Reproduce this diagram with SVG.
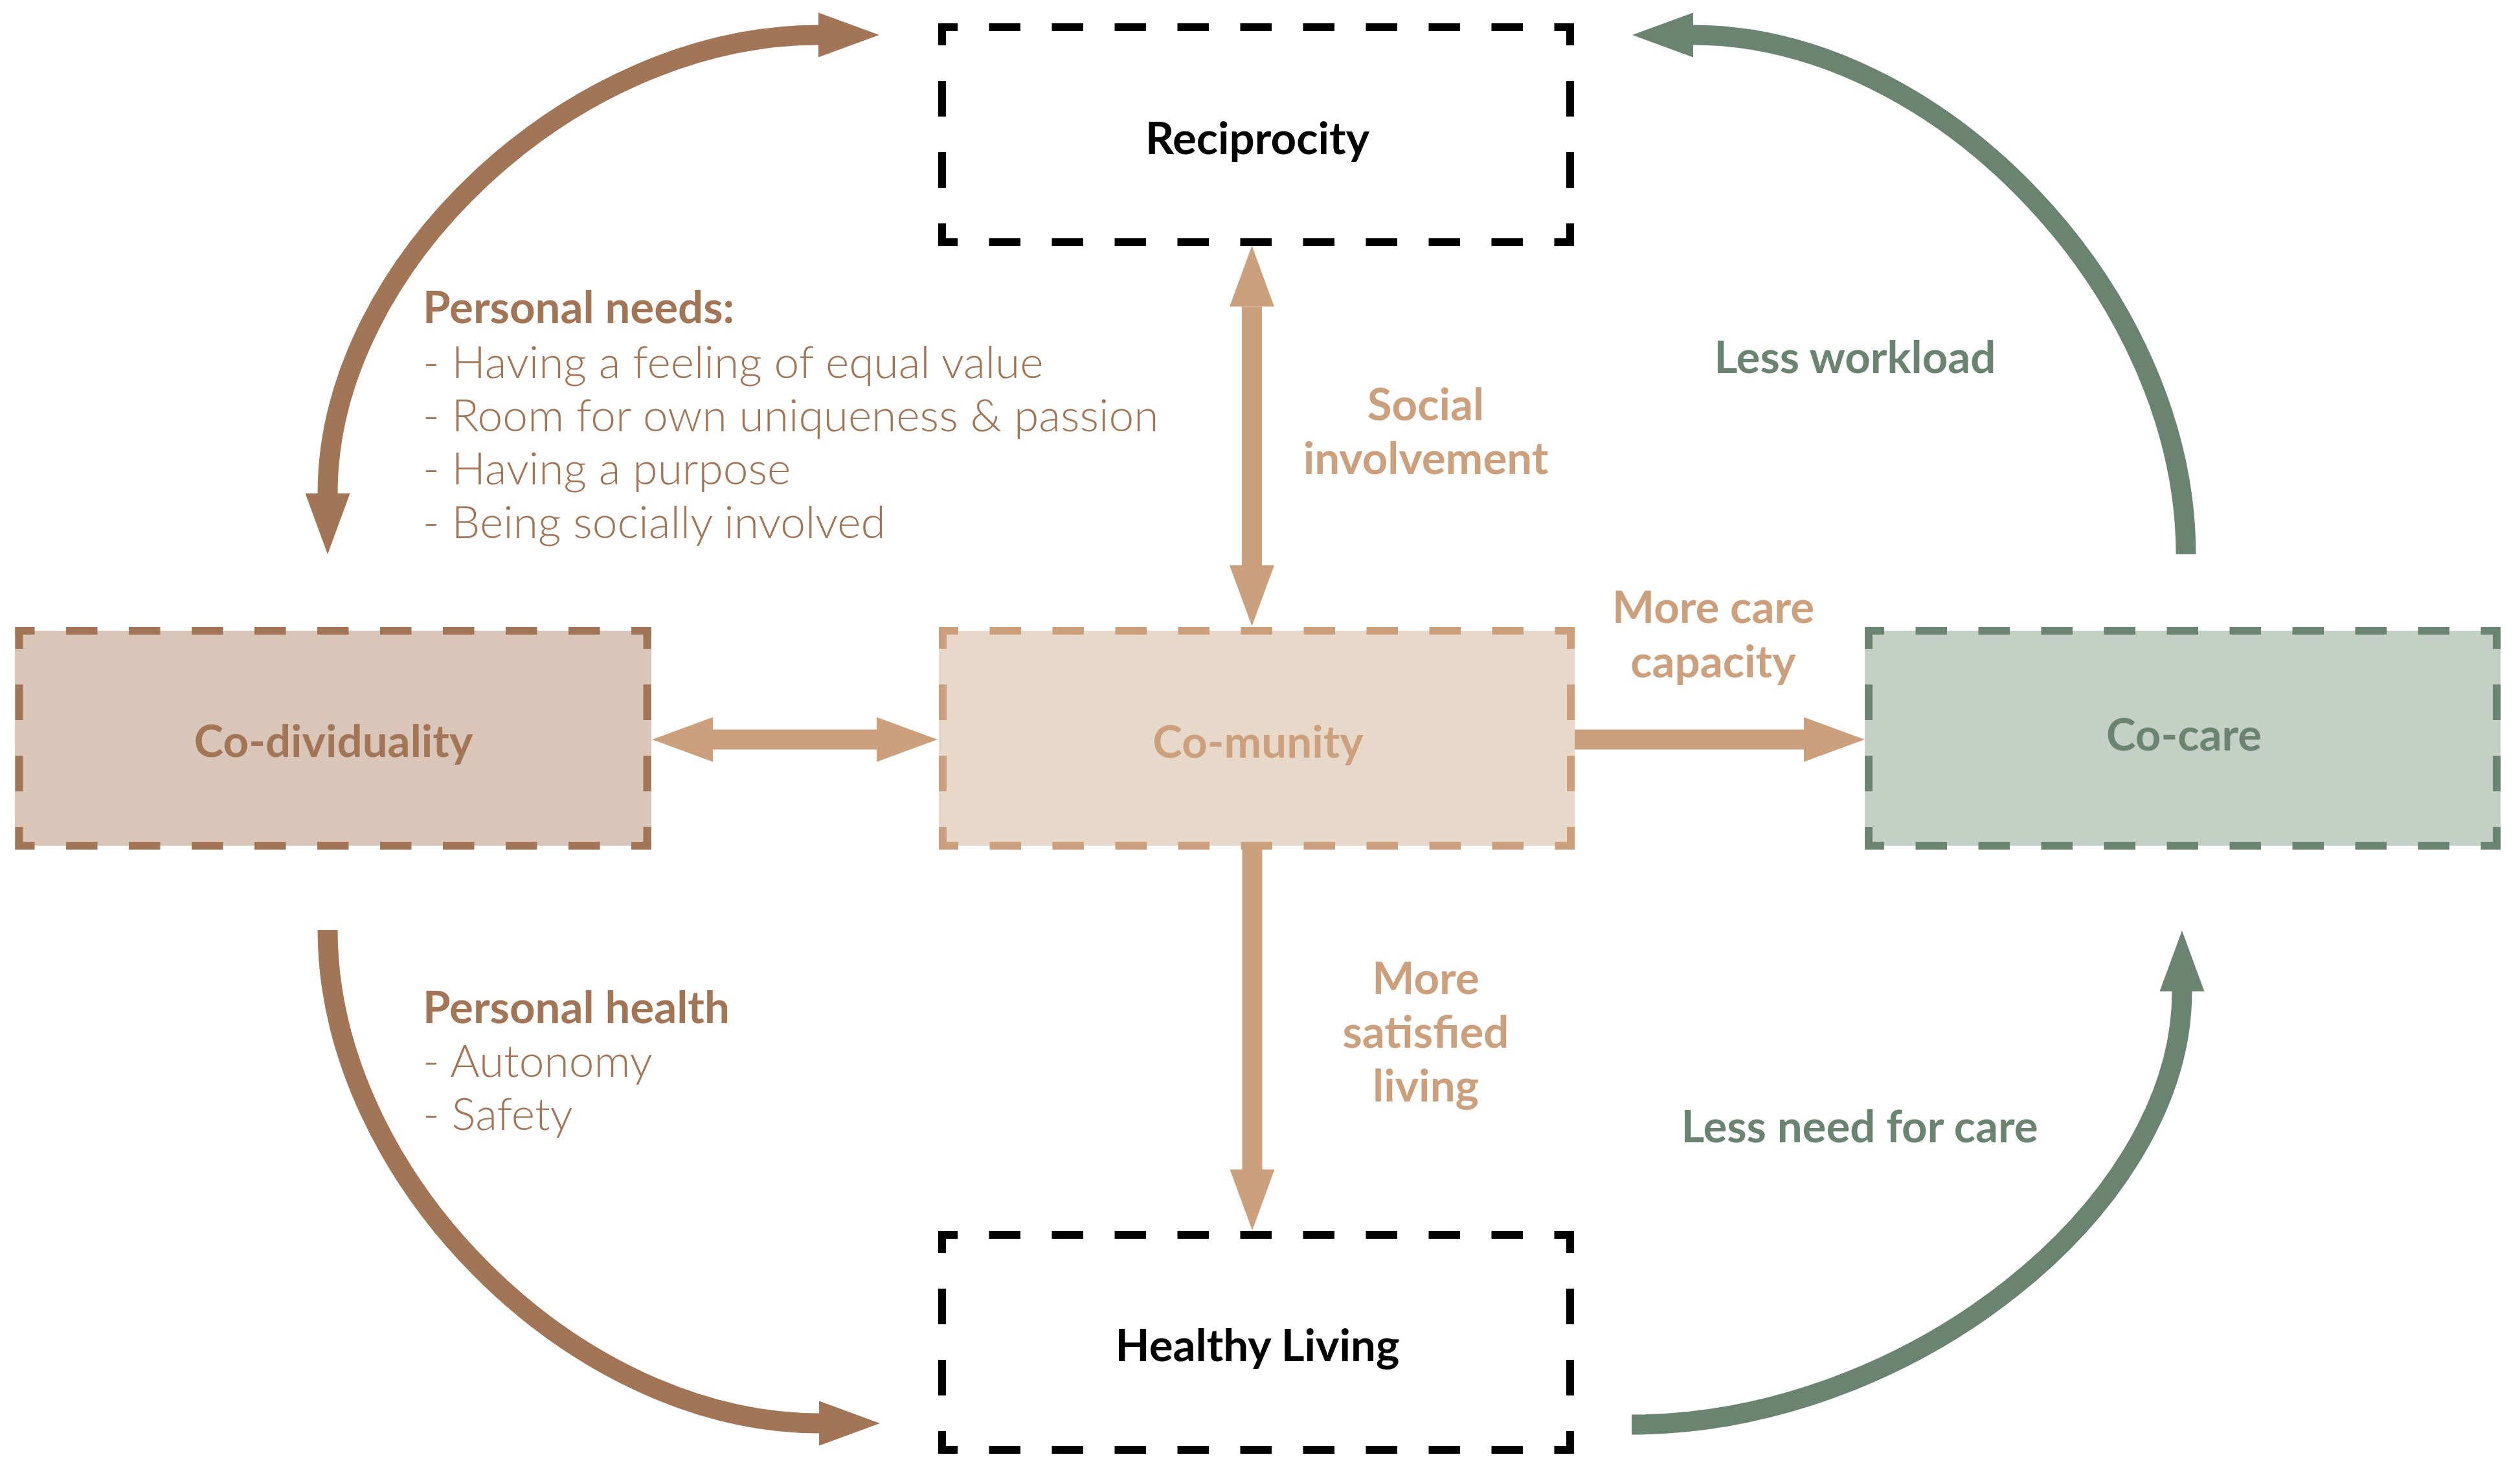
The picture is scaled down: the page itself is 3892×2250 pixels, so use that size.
<svg xmlns="http://www.w3.org/2000/svg" xmlns:xlink="http://www.w3.org/1999/xlink" width="3892" height="2250" viewBox="0 0 3892 2250">
<style>
  .h { stroke-dasharray: 48.5 48.5; stroke-dashoffset: 18.5; }
  .v { stroke-dasharray: 55 55; stroke-dashoffset: 21; }
  .node { font-family: Lato, "Open Sans", "Liberation Sans", sans-serif; font-weight: 700; font-size: 69px; text-anchor: middle; }
  .lbl { font-family: Lato, "Open Sans", "Liberation Sans", sans-serif; font-weight: 700; font-size: 69px; }
  .lt { font-family: Lato, "Open Sans", "Liberation Sans", sans-serif; font-weight: 300; font-size: 69.5px; }
  .mid { text-anchor: middle; }
  .brown { fill: #A17556; }
  .tan { fill: #CCA07C; }
  .green { fill: #6B8472; }
  .conn { fill: none; stroke-width: 31; }
</style>
<defs>
  <g id="frame" fill="none" stroke-width="12">
    <line class="h" x1="0" y1="6" x2="982" y2="6"/>
    <line class="h" x1="0" y1="338" x2="982" y2="338"/>
    <line class="v" x1="6" y1="0" x2="6" y2="344"/>
    <line class="v" x1="976" y1="0" x2="976" y2="344"/>
  </g>
  <marker id="mBrown" markerUnits="userSpaceOnUse" markerWidth="100" markerHeight="80" refX="0" refY="34.5" orient="auto-start-reverse" viewBox="0 0 100 69">
    <path d="M0,0 L94,34.5 L0,69 Z" fill="#A17556"/>
  </marker>
  <marker id="mTan" markerUnits="userSpaceOnUse" markerWidth="100" markerHeight="80" refX="0" refY="34.5" orient="auto-start-reverse" viewBox="0 0 100 69">
    <path d="M0,0 L94,34.5 L0,69 Z" fill="#CCA07C"/>
  </marker>
  <marker id="mGreen" markerUnits="userSpaceOnUse" markerWidth="100" markerHeight="80" refX="0" refY="34.5" orient="auto-start-reverse" viewBox="0 0 100 69">
    <path d="M0,0 L94,34.5 L0,69 Z" fill="#6B8472"/>
  </marker>
</defs>
<rect width="3892" height="2250" fill="#ffffff"/>

<g id="connectors">
  <path class="conn" stroke="#A17556" d="M506,762 C506,408 885,54 1264,54" marker-start="url(#mBrown)" marker-end="url(#mBrown)"/>
  <path class="conn" stroke="#6B8472" d="M3376,856 C3376,455 2995.5,54 2615,54" marker-end="url(#mGreen)"/>
  <path class="conn" stroke="#A17556" d="M506,1436 C506,1817 885.5,2198 1265,2198" marker-end="url(#mBrown)"/>
  <path class="conn" stroke="#6B8472" d="M2520,2200 C2945,2200 3370,1865.5 3370,1531" marker-end="url(#mGreen)"/>
  <path class="conn" stroke="#CCA07C" d="M1933.5,473.6 V873" marker-start="url(#mTan)" marker-end="url(#mTan)"/>
  <path class="conn" stroke="#CCA07C" d="M1101,1142 H1354" marker-start="url(#mTan)" marker-end="url(#mTan)"/>
  <path class="conn" stroke="#CCA07C" d="M2432,1142 H2786" marker-end="url(#mTan)"/>
  <path class="conn" stroke="#CCA07C" d="M1934,1312 V1806" marker-end="url(#mTan)"/>
</g>

<g id="reciprocity">
  <use xlink:href="#frame" href="#frame" x="1449" y="36" stroke="#000000"/>
  <text class="node" x="1942" y="238" fill="#000000">Reciprocity</text>
</g>
<g id="co-dividuality">
  <rect x="23" y="974" width="983" height="332" fill="#D9C6B9"/>
  <use xlink:href="#frame" href="#frame" x="23.5" y="968" stroke="#A17556"/>
  <text class="node brown" x="515" y="1169">Co-dividuality</text>
</g>
<g id="co-munity">
  <rect x="1450" y="974" width="982" height="332" fill="#E8D8CA"/>
  <use xlink:href="#frame" href="#frame" x="1450" y="968" stroke="#CCA07C"/>
  <text class="node tan" x="1943" y="1170">Co-munity</text>
</g>
<g id="co-care">
  <rect x="2880" y="974" width="982" height="332" fill="#C4CFC6"/>
  <use xlink:href="#frame" href="#frame" x="2880" y="968" stroke="#6B8472"/>
  <text class="node green" x="3373" y="1159">Co-care</text>
</g>
<g id="healthy-living">
  <use xlink:href="#frame" href="#frame" x="1449" y="1901" stroke="#000000"/>
  <text class="node" x="1942" y="2102" fill="#000000">Healthy Living</text>
</g>

<g id="labels">
  <text class="lbl brown" x="653" y="499">Personal needs:</text>
  <text class="lt brown" x="653" y="584">- Having a feeling of equal value</text>
  <text class="lt brown" x="653" y="666">- Room for own uniqueness &amp; passion</text>
  <text class="lt brown" x="653" y="748">- Having a purpose</text>
  <text class="lt brown" x="653" y="831">- Being socially involved</text>

  <text class="lbl brown" x="653" y="1580">Personal health</text>
  <text class="lt brown" x="653" y="1663">- Autonomy</text>
  <text class="lt brown" x="653" y="1745">- Safety</text>

  <text class="lbl tan mid" x="2202" y="649">Social</text>
  <text class="lbl tan mid" x="2202" y="732">involvement</text>

  <text class="lbl tan mid" x="2646" y="962">More care</text>
  <text class="lbl tan mid" x="2646" y="1046">capacity</text>

  <text class="lbl tan mid" x="2202" y="1535">More</text>
  <text class="lbl tan mid" x="2202" y="1618">satisfied</text>
  <text class="lbl tan mid" x="2202" y="1701">living</text>

  <text class="lbl green mid" x="2865" y="576">Less workload</text>
  <text class="lbl green mid" x="2872" y="1764">Less need for care</text>
</g>
</svg>
